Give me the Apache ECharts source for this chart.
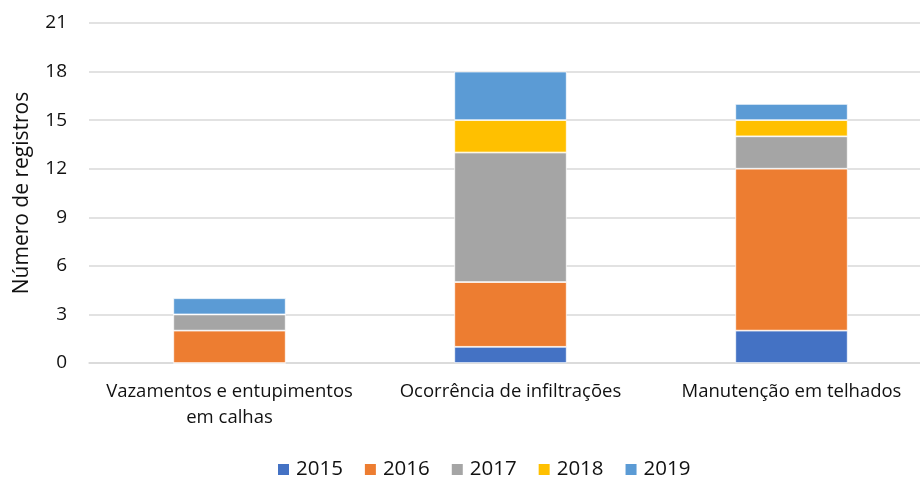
<!DOCTYPE html>
<html>
<head>
<meta charset="utf-8">
<script src="https://cdn.jsdelivr.net/npm/echarts@6/dist/echarts.min.js"></script>
<style>
  html, body { margin: 0; padding: 0; background: #fff; }
  #chart { width: 920px; height: 478px; }
</style>
</head>
<body>
<div id="chart"></div>
<script>
// Categories and yearly counts of records
const categories = ['Vazamentos e entupimentos\nem calhas', 'Ocorrência de infiltrações', 'Manutenção em telhados'];
const years = ['2015', '2016', '2017', '2018', '2019'];
const v2015 = [0, 1, 2];
const v2016 = [2, 4, 10];
const v2017 = [1, 8, 2];
const v2018 = [0, 2, 1];
const v2019 = [1, 3, 1];
const yearColors = ['#4472C4', '#ED7D31', '#A5A5A5', '#FFC000', '#5B9BD5'];

const font = 'Open Sans, Liberation Sans, sans-serif';
const valuesByYear = [v2015, v2016, v2017, v2018, v2019];

const chart = echarts.init(document.getElementById('chart'));
chart.setOption({
  animation: false,
  textStyle: { fontFamily: font },
  // plot area runs slightly past the right edge of the canvas
  grid: { left: 89, width: 843, top: 23, height: 340, containLabel: false, outerBoundsMode: 'none' },
  legend: {
    top: 454,
    left: 271,
    itemWidth: 13,
    itemHeight: 13,
    itemGap: 20,
    icon: 'rect',
    textStyle: { fontSize: 20.5, color: '#111', fontFamily: font, padding: [0, 0, 0, 1] },
    data: years
  },
  xAxis: {
    type: 'category',
    data: categories,
    axisLine: { lineStyle: { color: '#d9d9d9', width: 1.5 } },
    axisTick: { show: false },
    axisLabel: { fontSize: 18.5, color: '#111', lineHeight: 26, margin: 16, interval: 0 }
  },
  yAxis: {
    type: 'value',
    min: 0,
    max: 21,
    interval: 3,
    name: 'Número de registros',
    nameLocation: 'middle',
    nameGap: 56,
    nameTextStyle: { fontSize: 21, color: '#111' },
    axisLine: { show: false },
    axisTick: { show: false },
    axisLabel: { fontSize: 19, color: '#111', margin: 22 },
    splitLine: { lineStyle: { color: '#d9d9d9', width: 1.5 } }
  },
  series: years.map((y, i) => ({
    name: y,
    type: 'bar',
    stack: 'total',
    barWidth: '40%',
    data: valuesByYear[i],
    itemStyle: { color: yearColors[i], borderColor: '#fff', borderWidth: 0.75 }
  }))
});
</script>
</body>
</html>
